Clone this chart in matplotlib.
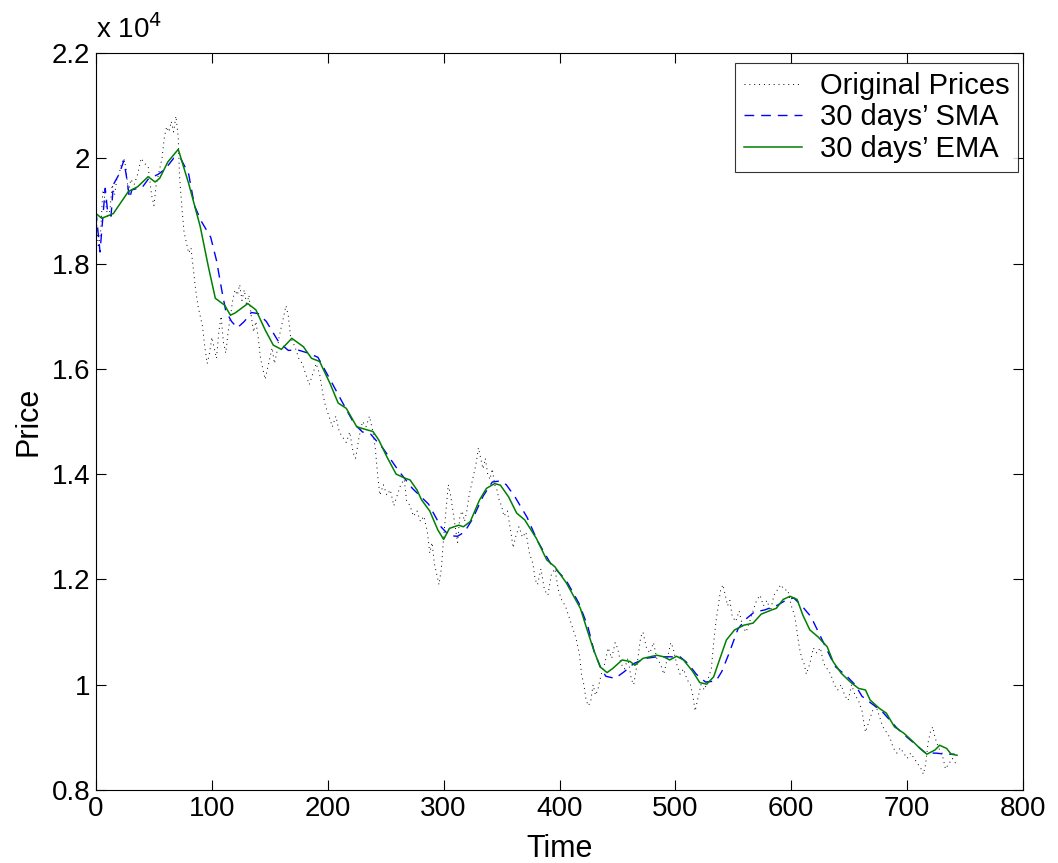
import matplotlib
matplotlib.use("Agg")
import matplotlib.pyplot as plt
import numpy as np

# values are in units of 10^4
price_days = [0, 2, 4, 6, 8, 10, 12, 14, 16, 18, 20, 22, 24, 26, 28, 30, 33, 36, 39, 42,
              45, 48, 50, 52, 55, 57, 59, 61, 63, 65, 67, 69, 71, 72, 74, 76, 78, 80, 82, 84,
              86, 88, 90, 92, 94, 96, 98, 100, 102, 104, 106, 108, 110, 112, 114, 116, 118, 120, 122, 124,
              126, 128, 130, 132, 134, 136, 138, 140, 142, 144, 146, 148, 150, 152, 154, 156, 158, 160, 162, 164,
              166, 168, 170, 172, 175, 178, 181, 184, 187, 190, 193, 196, 198, 201, 204, 207, 210, 213, 216, 219,
              222, 224, 227, 230, 233, 236, 239, 241, 243, 245, 248, 251, 254, 257, 260, 263, 266, 268, 271, 274,
              277, 280, 283, 286, 288, 290, 292, 294, 296, 298, 300, 302, 304, 306, 308, 310, 312, 314, 316, 318,
              320, 322, 324, 326, 328, 330, 332, 334, 336, 338, 340, 342, 344, 346, 348, 350, 352, 355, 358, 360,
              362, 365, 368, 371, 374, 377, 379, 381, 384, 387, 390, 393, 396, 399, 402, 405, 408, 411, 414, 417,
              419, 421, 423, 425, 427, 429, 431, 433, 436, 439, 442, 445, 448, 450, 453, 456, 459, 462, 464, 467,
              470, 472, 475, 478, 481, 484, 487, 490, 493, 496, 498, 501, 504, 507, 510, 513, 515, 517, 519, 522,
              525, 528, 531, 533, 535, 537, 539, 541, 543, 545, 547, 549, 552, 555, 558, 561, 564, 567, 570, 573,
              576, 579, 582, 585, 588, 591, 594, 597, 600, 603, 605, 607, 609, 611, 613, 616, 619, 622, 625, 628,
              631, 634, 637, 640, 643, 646, 649, 652, 655, 658, 661, 664, 667, 670, 673, 676, 679, 682, 685, 688,
              691, 694, 697, 700, 703, 706, 709, 712, 714, 716, 718, 720, 722, 724, 727, 730, 733, 736, 739, 742]
prices = [1.90, 1.83, 1.86, 1.94, 1.92, 1.89, 1.90, 1.95, 1.93, 1.96, 1.97, 1.99, 2.00, 1.98, 1.93, 1.96, 1.95, 1.97, 2.00, 1.99,
          1.985, 1.93, 1.91, 1.95, 1.98, 2.00, 2.04, 2.06, 2.05, 2.07, 2.05, 2.08, 2.04, 1.97, 1.91, 1.86, 1.84, 1.82, 1.83, 1.79,
          1.75, 1.72, 1.70, 1.68, 1.64, 1.61, 1.63, 1.66, 1.64, 1.62, 1.67, 1.70, 1.65, 1.63, 1.67, 1.70, 1.73, 1.75, 1.74, 1.76,
          1.73, 1.75, 1.72, 1.74, 1.70, 1.67, 1.69, 1.66, 1.62, 1.60, 1.58, 1.60, 1.62, 1.64, 1.61, 1.63, 1.66, 1.68, 1.70, 1.72,
          1.70, 1.66, 1.65, 1.64, 1.62, 1.61, 1.59, 1.57, 1.59, 1.61, 1.59, 1.55, 1.53, 1.51, 1.49, 1.51, 1.48, 1.47, 1.46, 1.48,
          1.44, 1.43, 1.47, 1.50, 1.49, 1.51, 1.48, 1.45, 1.40, 1.36, 1.38, 1.36, 1.37, 1.34, 1.36, 1.38, 1.39, 1.35, 1.34, 1.32,
          1.33, 1.31, 1.32, 1.29, 1.25, 1.27, 1.23, 1.21, 1.19, 1.22, 1.28, 1.33, 1.38, 1.36, 1.33, 1.30, 1.27, 1.32, 1.33, 1.31,
          1.33, 1.36, 1.38, 1.40, 1.42, 1.45, 1.43, 1.41, 1.43, 1.40, 1.39, 1.41, 1.38, 1.37, 1.35, 1.34, 1.32, 1.33, 1.29, 1.26,
          1.28, 1.30, 1.28, 1.29, 1.25, 1.23, 1.20, 1.19, 1.22, 1.18, 1.17, 1.21, 1.22, 1.18, 1.16, 1.15, 1.13, 1.11, 1.09, 1.06,
          1.02, 1.00, 0.97, 0.96, 0.97, 1.00, 0.98, 0.99, 1.02, 1.04, 1.07, 1.05, 1.08, 1.07, 1.04, 1.03, 1.05, 1.01, 1.00, 1.04,
          1.09, 1.10, 1.07, 1.06, 1.08, 1.05, 1.04, 1.02, 1.05, 1.08, 1.07, 1.04, 1.02, 1.03, 1.01, 1.00, 0.98, 0.95, 0.97, 1.00,
          0.99, 1.01, 1.03, 1.08, 1.12, 1.15, 1.18, 1.19, 1.17, 1.15, 1.16, 1.13, 1.12, 1.14, 1.11, 1.10, 1.12, 1.14, 1.16, 1.17,
          1.15, 1.16, 1.14, 1.17, 1.18, 1.19, 1.18, 1.18, 1.15, 1.13, 1.10, 1.07, 1.05, 1.04, 1.02, 1.04, 1.07, 1.06, 1.07, 1.04,
          1.03, 1.02, 1.00, 0.99, 1.00, 0.98, 0.97, 1.00, 0.98, 0.97, 0.95, 0.91, 0.93, 0.95, 0.96, 0.94, 0.92, 0.91, 0.90, 0.88,
          0.87, 0.88, 0.87, 0.86, 0.87, 0.86, 0.85, 0.84, 0.83, 0.85, 0.89, 0.91, 0.92, 0.90, 0.88, 0.87, 0.84, 0.85, 0.86, 0.85]

sma_days = [0, 3.5, 8, 10, 13, 15, 20, 24, 26, 29, 31, 40, 45, 54, 60, 67, 73, 80, 85, 91,
            99, 104, 108.5, 112, 117, 122, 128, 134, 140, 147, 158, 166, 174, 183, 191.5, 202, 212, 223, 230, 237,
            248, 260.6, 273, 287, 297.7, 305, 312, 318, 325, 334, 342, 348.6, 354, 361.5, 372, 381, 392.6, 405.5, 416.7, 424.5,
            430, 436, 440, 448, 456, 464, 474, 484, 494, 504, 511, 518, 526, 535, 540, 546, 554, 561, 568, 577,
            588, 595, 602, 609, 617, 626, 637.6, 648, 655, 661, 670, 678, 691, 700, 708, 716, 725, 733, 741]
sma = [1.90, 1.822, 1.943, 1.90, 1.89, 1.95, 1.97, 1.995, 1.97, 1.924, 1.94, 1.945, 1.96, 1.97, 1.98, 2.0, 2.0, 1.97, 1.91, 1.88,
       1.85, 1.806, 1.75, 1.71, 1.69, 1.678, 1.69, 1.707, 1.705, 1.69, 1.65, 1.635, 1.636, 1.63, 1.622, 1.58, 1.539, 1.495, 1.48, 1.476,
       1.448, 1.408, 1.373, 1.343, 1.30, 1.283, 1.282, 1.29, 1.315, 1.358, 1.385, 1.387, 1.38, 1.357, 1.318, 1.273, 1.229, 1.199, 1.155, 1.11,
       1.062, 1.03, 1.016, 1.012, 1.025, 1.04, 1.05, 1.053, 1.053, 1.053, 1.04, 1.02, 1.005, 1.007, 1.025, 1.058, 1.106, 1.125, 1.138, 1.142,
       1.151, 1.16, 1.165, 1.15, 1.129, 1.088, 1.035, 1.016, 1.0, 0.978, 0.963, 0.95, 0.918, 0.90, 0.885, 0.87, 0.87, 0.868, 0.868]

ema_days = [0, 5, 15, 28, 36, 45, 51, 55, 62, 71, 80, 90, 97, 103, 111, 116, 120, 131, 138, 146,
            153, 160, 169, 179, 186, 193, 202, 209, 216, 225, 234, 239, 244, 251, 259, 267, 271, 277, 281, 288,
            295, 300, 305, 313, 317, 323, 331, 337, 344, 349, 356, 363, 370, 380, 389, 396, 406, 418, 423, 429,
            435, 441, 446, 454, 461, 465, 472, 484, 490, 495, 501, 507, 515, 521, 527, 533, 538, 544, 551, 559,
            567, 574, 583, 587, 593, 599, 605, 610, 616, 623, 631, 636, 643, 651, 658, 664, 668, 676, 682, 689,
            697, 705, 711, 717, 724, 728, 734, 738, 743]
ema = [1.895, 1.886, 1.895, 1.937, 1.946, 1.965, 1.955, 1.962, 1.993, 2.017, 1.952, 1.870, 1.794, 1.734, 1.721, 1.702, 1.706, 1.724, 1.712, 1.674,
       1.645, 1.637, 1.658, 1.642, 1.62, 1.614, 1.572, 1.535, 1.525, 1.49, 1.484, 1.481, 1.465, 1.433, 1.40, 1.392, 1.389, 1.37, 1.351, 1.33,
       1.294, 1.276, 1.297, 1.303, 1.30, 1.31, 1.351, 1.373, 1.382, 1.379, 1.357, 1.326, 1.313, 1.278, 1.237, 1.224, 1.193, 1.145, 1.11, 1.069,
       1.034, 1.023, 1.031, 1.047, 1.044, 1.037, 1.05, 1.056, 1.053, 1.047, 1.054, 1.047, 1.025, 1.004, 1.001, 1.015, 1.047, 1.085, 1.104, 1.113,
       1.117, 1.134, 1.142, 1.145, 1.162, 1.168, 1.162, 1.132, 1.104, 1.091, 1.072, 1.044, 1.022, 1.005, 0.993, 0.99, 0.971, 0.955, 0.946, 0.92,
       0.908, 0.892, 0.879, 0.868, 0.876, 0.885, 0.879, 0.868, 0.866]

plt.rcParams['font.family'] = ['Liberation Sans', 'DejaVu Sans']

fig = plt.figure(figsize=(10.58, 8.63), dpi=100)
ax = fig.add_axes([0.0907, 0.0846, 0.8763, 0.854])

ax.plot(price_days, prices, color='black', linestyle=(0, (1, 4)), linewidth=0.7, label='Original Prices')
ax.plot(sma_days, sma, color='#0000ff', linestyle=(0, (7, 5)), linewidth=1.0, label="30 days\u2019 SMA")
ax.plot(ema_days, ema, color='#008000', linestyle='-', linewidth=1.1, label="30 days\u2019 EMA")

ax.set_xlim(0, 800)
ax.set_ylim(0.8, 2.2)
ax.set_xticks(np.arange(0, 801, 100))
ax.set_yticks([0.8, 1.0, 1.2, 1.4, 1.6, 1.8, 2.0, 2.2])
ax.set_yticklabels(['0.8', '1', '1.2', '1.4', '1.6', '1.8', '2', '2.2'])
ax.tick_params(direction='in', length=7, width=0.8, top=True, right=True, labelsize=20, pad=4)
for s in ax.spines.values():
    s.set_linewidth(0.8)

ax.set_xlabel('Time', fontsize=22, labelpad=9)
ax.set_ylabel('Price', fontsize=22, labelpad=6)
ax.text(0.0, 1.012, 'x 10$^4$', transform=ax.transAxes, fontsize=20, ha='left', va='bottom')

leg = ax.legend(loc='upper right', bbox_to_anchor=(0.9946, 0.9864), fontsize=21, frameon=True,
                fancybox=False, edgecolor='black', borderaxespad=0.0, handlelength=2.0,
                handletextpad=0.6, labelspacing=0.12, borderpad=0.3)
leg.get_frame().set_linewidth(0.8)

fig.savefig('out.png', dpi=100)
